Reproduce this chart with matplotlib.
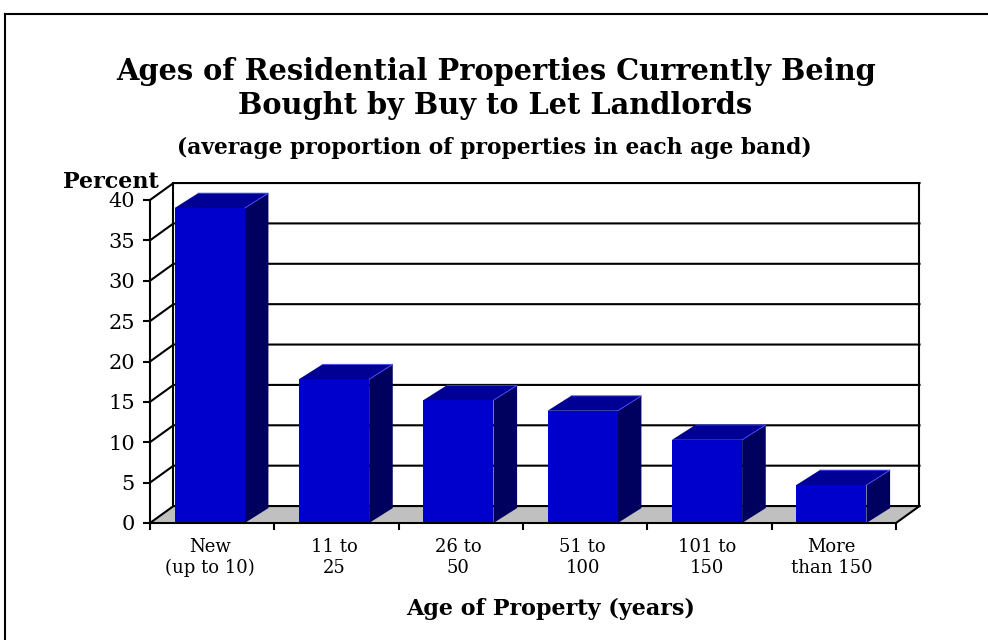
import numpy as np
import matplotlib
matplotlib.use('Agg')
import matplotlib.pyplot as plt
from matplotlib.patches import Polygon
from matplotlib.lines import Line2D

# 各年龄段数据
age_bands = ['New\n(up to 10)', '11 to\n25', '26 to\n50', '51 to\n100', '101 to\n150', 'More\nthan 150']
percent = [39.0, 17.8, 15.2, 13.9, 10.3, 4.7]
y_ticks = [0, 5, 10, 15, 20, 25, 30, 35, 40]

# 3D 效果参数（数据单位）
WALL_DX, WALL_DY = 0.189, 2.1
BAR_DX, BAR_DY = 0.19, 1.85
BAR_W = 0.565
BAR_OFF = 0.48

FRONT = '#0000cc'
TOP = '#000094'
SIDE = '#00005e'
FLOOR = '#c0c0c0'

plt.rcParams['font.family'] = ['DejaVu Serif']

fig = plt.figure(figsize=(9.88, 6.4), dpi=100)
ax = fig.add_axes([150 / 988, 117 / 640, 746 / 988, 323 / 640])

n = len(percent)
ymax = y_ticks[-1]
ax.set_xlim(0, n)
ax.set_ylim(0, ymax)


def face(pts, color, z):
    ax.add_patch(Polygon(pts, closed=True, facecolor=color, edgecolor='none',
                         zorder=z, clip_on=False))


# 背景墙和地板
face([(WALL_DX, WALL_DY), (n + WALL_DX, WALL_DY), (n + WALL_DX, ymax + WALL_DY),
      (WALL_DX, ymax + WALL_DY)], 'white', 1)
face([(0, 0), (WALL_DX, WALL_DY), (WALL_DX, ymax + WALL_DY), (0, ymax)], 'white', 1)
face([(0, 0), (n, 0), (n + WALL_DX, WALL_DY), (WALL_DX, WALL_DY)], FLOOR, 1)

line_kw = dict(color='black', lw=1.5, clip_on=False, zorder=1.5,
               solid_capstyle='projecting')
for v in y_ticks:
    ax.plot([0, WALL_DX, n + WALL_DX], [v, v + WALL_DY, v + WALL_DY], **line_kw)
ax.plot([WALL_DX, WALL_DX], [WALL_DY, ymax + WALL_DY], **line_kw)
ax.plot([n + WALL_DX, n + WALL_DX], [WALL_DY, ymax + WALL_DY], **line_kw)
ax.plot([n, n + WALL_DX], [0, WALL_DY], **line_kw)

# 柱体
centers = np.arange(n) + BAR_OFF
for c, v in zip(centers, percent):
    x0, x1 = c - BAR_W / 2, c + BAR_W / 2
    face([(x1, 0), (x1 + BAR_DX, BAR_DY), (x1 + BAR_DX, v + BAR_DY), (x1, v)], SIDE, 2)
    face([(x0, v), (x1, v), (x1 + BAR_DX, v + BAR_DY), (x0 + BAR_DX, v + BAR_DY)], TOP, 2)
    face([(x0, 0), (x1, 0), (x1, v), (x0, v)], FRONT, 2)
    ax.plot([x0 + BAR_DX, x1 + BAR_DX, x1], [v + BAR_DY, v + BAR_DY, v],
            color='#4d4dff', lw=0.6, zorder=2.1, clip_on=False)

# 坐标轴
for side in ['top', 'right']:
    ax.spines[side].set_visible(False)
for side in ['left', 'bottom']:
    ax.spines[side].set_linewidth(1.5)
    ax.spines[side].set_zorder(3)

ax.set_yticks(y_ticks)
ax.tick_params(axis='y', direction='out', length=5, width=1.5, pad=6, labelsize=15)
ax.set_xticks(np.arange(n + 1))
ax.set_xticklabels([])
ax.tick_params(axis='x', which='major', direction='out', length=5, width=1.5)
ax.set_xticks(centers, minor=True)
ax.set_xticklabels(age_bands, minor=True, fontsize=13)
ax.tick_params(axis='x', which='minor', length=0, pad=11)

# 标题和标签
fig.text(496 / 988, 1 - 80 / 640, 'Ages of Residential Properties Currently Being',
         ha='center', va='baseline', fontsize=20.8, fontweight='bold')
fig.text(495 / 988, 1 - 114 / 640, 'Bought by Buy to Let Landlords',
         ha='center', va='baseline', fontsize=20.8, fontweight='bold')
fig.text(494 / 988, 1 - 154 / 640, '(average proportion of properties in each age band)',
         ha='center', va='baseline', fontsize=15.7, fontweight='bold')
fig.text(63 / 988, 1 - 188 / 640, 'Percent', ha='left', va='baseline',
         fontsize=16, fontweight='bold')
fig.text(551 / 988, 1 - 615 / 640, 'Age of Property (years)', ha='center',
         va='baseline', fontsize=16, fontweight='bold')

# 外框
fig.add_artist(Line2D([5 / 988, 5 / 988], [0, 1 - 14 / 640], color='black', lw=1.5,
                      transform=fig.transFigure))
fig.add_artist(Line2D([5 / 988, 1], [1 - 14 / 640, 1 - 14 / 640], color='black', lw=1.5,
                      transform=fig.transFigure))

fig.savefig('out.png', dpi=100)
